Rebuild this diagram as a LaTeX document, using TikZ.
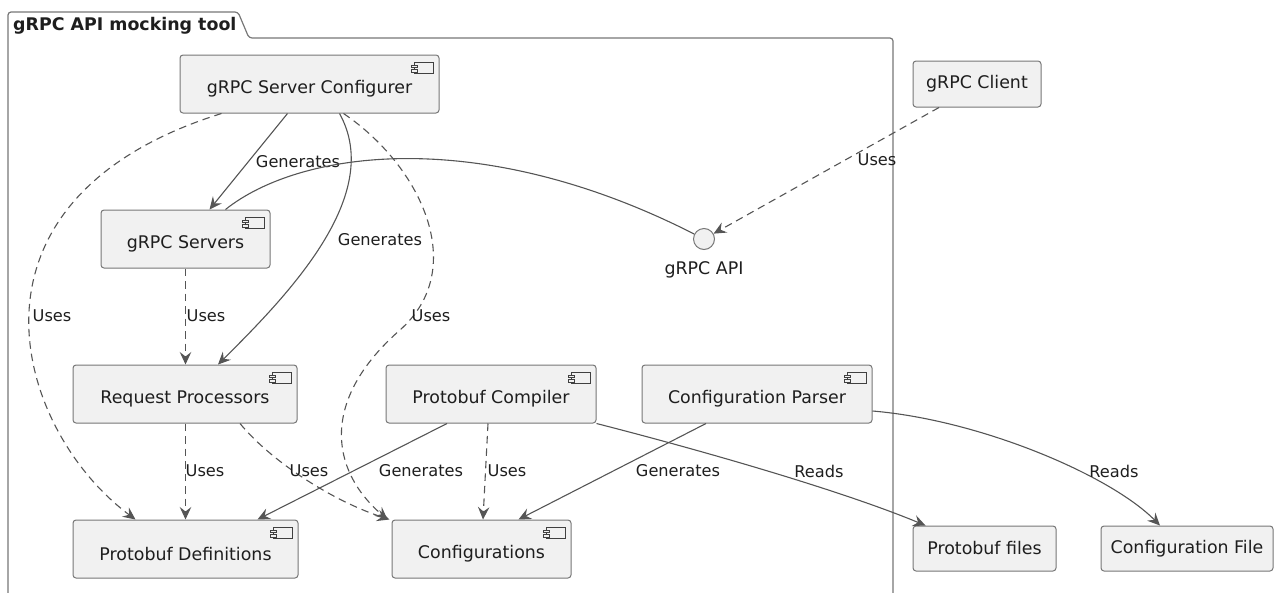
\documentclass[tikz,border=0pt]{standalone}
\usepackage{fontspec}
\setmainfont{DejaVu Sans}
\usetikzlibrary{arrows.meta,fit}
\definecolor{boxfill}{HTML}{F1F1F1}
\definecolor{boxline}{HTML}{777777}
\definecolor{wire}{HTML}{555555}
\definecolor{ink}{HTML}{1E1E1E}

% component box: frame, caption slightly below centre, small component glyph top right
\newcommand\umlcomp[4]{%
  \node[comp, fit={#2 #3}] (#1) {};
  \node[ctext] (#1-t) at ([yshift=-5pt]#1.center) {#4};
  \draw[icon] ([shift={(-25,8)}]#1.north east) rectangle ([shift={(-6,19)}]#1.north east);
  \draw[icon] ([shift={(-28,10.5)}]#1.north east) rectangle ([shift={(-22,13)}]#1.north east);
  \draw[icon] ([shift={(-28,15)}]#1.north east) rectangle ([shift={(-22,17.5)}]#1.north east);
}

\begin{document}
\begin{tikzpicture}[x=1pt,y=-1pt,
  comp/.style={draw=boxline, fill=boxfill, line width=1pt, rounded corners=3pt, inner sep=0pt},
  ctext/.style={font=\fontsize{17.4}{20}\selectfont, text=ink, inner sep=0pt},
  rectbox/.style={comp, ctext},
  lbl/.style={font=\fontsize{16.2}{19}\selectfont, text=ink, inner sep=0pt},
  edge/.style={draw=wire, line width=1.1pt},
  arr/.style={-{Stealth[length=12.5pt,width=11.5pt,inset=4.5pt]}},
  uses/.style={dash pattern=on 7.5pt off 5pt},
  icon/.style={draw=ink!85, line width=0.8pt, fill=boxfill},
  pkg/.style={draw=boxline, line width=1.2pt, rounded corners=3pt},
]
\useasboundingbox (0,0) rectangle (1275,592);
\clip (0,0) rectangle (1275,592);

% package frame with its tab
\draw[pkg] (8,610) -- (8,12) -- (238,12) -- (249,38) -- (893,38) -- (893,610);
\node[font=\bfseries\fontsize{17.4}{20}\selectfont, text=ink, anchor=base west, inner sep=0pt]
  (pkgtitle) at (13,30) {gRPC API mocking tool};

% components inside the package
\umlcomp{cfg}{(180,55)}{(439,113)}{gRPC Server Configurer}
\umlcomp{srv}{(101,210)}{(270,268)}{gRPC Servers}
\umlcomp{rp}{(73,365)}{(297,423)}{Request Processors}
\umlcomp{pc}{(386,365)}{(596,423)}{Protobuf Compiler}
\umlcomp{cp}{(642,365)}{(872,423)}{Configuration Parser}
\umlcomp{pd}{(73,520)}{(298,578)}{Protobuf Definitions}
\umlcomp{cf}{(392,520)}{(571,578)}{Configurations}

% interface
\node[circle, draw=boxline, fill=boxfill, line width=1pt, minimum size=21pt, inner sep=0pt] (api) at (704,239) {};
\node[ctext] (api-t) at (704,270) {gRPC API};

% outside elements
\node[rectbox, minimum width=128pt, minimum height=46pt] (cli) at (977,84) {gRPC Client};
\node[rectbox, minimum width=143pt, minimum height=45pt] (pf) at (984.5,548.5) {Protobuf files};
\node[rectbox, minimum width=172pt, minimum height=45pt] (cfile) at (1187,548.5) {Configuration File};

% connectors
\draw[edge,arr] ([xshift=-22pt]cfg.south) -- ([xshift=24pt]srv.north);
\node[lbl] (l1) at (298,162) {Generates};

\draw[edge,arr] ([xshift=30pt]cfg.south) .. controls (385,195) and (288,295) .. ([xshift=33pt]rp.north);
\node[lbl] (l2) at (380,240) {Generates};

\draw[edge,uses,arr] ([xshift=-88pt]cfg.south) .. controls (-55,200) and (15,430) .. ([xshift=-50pt]pd.north);
\node[lbl] (l3) at (52,316) {Uses};

\draw[edge,uses,arr] ([xshift=34pt]cfg.south) .. controls (420,165) and (470,268) .. (400,330)
  .. controls (320,400) and (330,470) .. ([xshift=-4pt]cf.north west);
\node[lbl] (l4) at (431,316) {Uses};

\draw[edge,uses,arr] (srv.south) -- (srv.south |- rp.north);
\node[lbl] (l5) at (206,316) {Uses};

\draw[edge,uses,arr] ([xshift=0.5pt]rp.south) -- ([xshift=0.5pt]rp.south |- pd.north);
\node[lbl] (l6) at (205,471) {Uses};

\draw[edge,uses,arr] ([xshift=55pt]rp.south) .. controls (270,460) and (330,500) .. ([xshift=-2pt]cf.north west);
\node[lbl] (l7) at (309,471) {Uses};

\draw[edge,arr] ([xshift=-44pt]pc.south) -- ([xshift=72pt]pd.north);
\node[lbl] (l8) at (421,471) {Generates};

\draw[edge,uses,arr] ([xshift=-3pt]pc.south) -- ([xshift=1.5pt]cf.north);
\node[lbl] (l9) at (507,471) {Uses};

\draw[edge,arr] (pc.south east) .. controls (700,450) and (840,490) .. ([xshift=13pt]pf.north west);
\node[lbl] (l10) at (819,471) {Reads};

\draw[edge,arr] ([xshift=-51pt]cp.south) -- ([xshift=37pt]cf.north);
\node[lbl] (l11) at (678,471) {Generates};

\draw[edge,arr] ([yshift=-17pt]cp.east) .. controls (980,420) and (1110,475) .. ([xshift=-27pt]cfile.north);
\node[lbl] (l12) at (1114,471) {Reads};

\draw[edge] ([xshift=40pt]srv.north) .. controls (300,150) and (480,125) .. (api);

\draw[edge,uses,arr] ([xshift=-38pt]cli.south) -- (api);
\node[lbl] (l14) at (877,160) {Uses};
\end{tikzpicture}
\end{document}
